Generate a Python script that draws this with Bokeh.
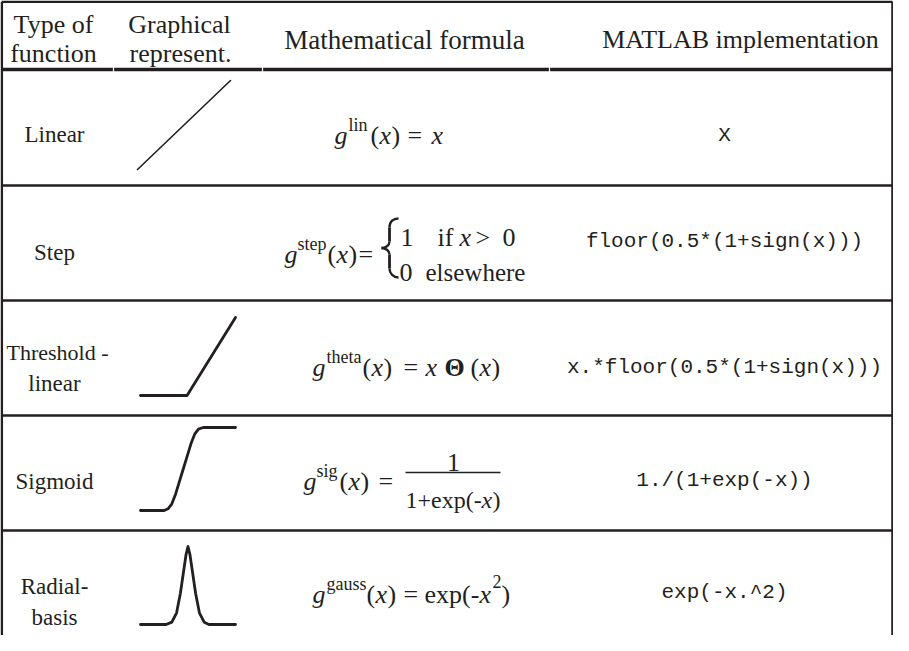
from bokeh.plotting import figure
from bokeh.models import Range1d, ColumnDataSource
from bokeh.embed import file_html
from bokeh.resources import INLINE
from bokeh.core.properties import value

# ---------------- data ----------------
header_lines = [["Type of", "function"], ["Graphical", "represent."],
                ["Mathematical formula"], ["MATLAB implementation"]]
function_type_lines = [["Linear"], ["Step"], ["Threshold -", "linear"],
                       ["Sigmoid"], ["Radial-", "basis"]]
superscripts = ["lin", "step", "theta", "sig", "gauss"]
matlab_code = ["X", "floor(0.5*(1+sign(x)))", "x.*floor(0.5*(1+sign(x)))",
               "1./(1+exp(-x))", "exp(-x.^2)"]

# sketch curves (u: 0..1 across the cell sketch, v: 0 bottom .. 1 top)
linear_u = [0.0, 1.0]
linear_v = [0.0, 1.0]
threshold_u = [0.0, 0.49, 1.0]
threshold_v = [0.0, 0.0, 1.0]
sigmoid_u = [0.0, 0.25, 0.29, 0.33, 0.37, 0.41, 0.45, 0.49, 0.53, 0.57, 0.61, 0.66, 1.0]
sigmoid_v = [0.0, 0.0, 0.02, 0.08, 0.2, 0.35, 0.5, 0.65, 0.8, 0.92, 0.98, 1.0, 1.0]
gauss_u = [0.0, 0.27, 0.33, 0.38, 0.42, 0.45, 0.48, 0.5, 0.52, 0.55, 0.58, 0.62, 0.67, 0.72, 1.0]
gauss_v = [0.0, 0.0, 0.03, 0.15, 0.4, 0.65, 0.9, 1.0, 0.9, 0.65, 0.4, 0.15, 0.03, 0.0, 0.0]

# ---------------- layout (page pixel coordinates) ----------------
INK = "#231f20"
SERIF = "Liberation Serif"
MONO = "Liberation Mono"
header_y = 77
row_lines = [193, 308, 423, 538]
col_gaps = [121, 270, 557]
left, right, top, bottom = 9.3, 900, 9.3, 643

p = figure(width=893, height=635, x_range=Range1d(8, 901), y_range=Range1d(643, 8),
           output_backend="svg", toolbar_location=None, min_border=0,
           x_axis_type=None, y_axis_type=None,
           background_fill_color="white", border_fill_color="white",
           outline_line_color=None)
p.grid.visible = False

# frame
p.segment(x0=[left, left, right], y0=[top, top, top], x1=[right, left, right], y1=[top, bottom, bottom],
          line_color=INK, line_width=2.5)
# header line with tiny column gaps
hx0 = [left] + [g + 0.6 for g in col_gaps]
hx1 = [g - 0.6 for g in col_gaps] + [right]
p.segment(x0=hx0, y0=[header_y] * 4, x1=hx1, y1=[header_y] * 4, line_color=INK, line_width=3.5)
# row lines
p.segment(x0=[left] * 4, y0=row_lines, x1=[right] * 4, y1=row_lines, line_color=INK, line_width=2.5)

# sketches
def sketch(u, v, ybot, ytop, lw, x0=148, x1=243):
    xs = [x0 + a * (x1 - x0) for a in u]
    ys = [ybot + b * (ytop - ybot) for b in v]
    p.line(xs, ys, line_color=INK, line_width=lw, line_join="round", line_cap="round")

sketch(linear_u, linear_v, 177, 88, 1.6, 145, 238)
sketch(threshold_u, threshold_v, 403, 325, 2.8)
sketch(sigmoid_u, sigmoid_v, 518, 435, 2.8)
sketch(gauss_u, gauss_v, 632, 554, 2.8)

# ---------------- texts ----------------
groups = {}
def put(txt, x, y, size=26, style="normal", font=SERIF, align="left", baseline="alphabetic"):
    d = groups.setdefault((font, style, align, baseline), dict(x=[], y=[], text=[], size=[]))
    d["x"].append(x); d["y"].append(y); d["text"].append(txt); d["size"].append(f"{size}px")

# header
put(header_lines[0][0], 61, 32, align="center")
put(header_lines[0][1], 61, 61, align="center")
put(header_lines[1][0], 187, 32, align="center")
put(header_lines[1][1], 188, 61, align="center")
put(header_lines[2][0], 412, 47, size=27, align="center")
put(header_lines[3][0], 748, 47, align="center")

# function type labels
label_base = [[142], [260], [360, 391], [489], [594, 625]]
label_size = [[23], [23], [22, 23], [23], [23, 23]]
label_x = [[62], [62], [65, 62], [62], [62, 62]]
for lines, ys, ss, xs in zip(function_type_lines, label_base, label_size, label_x):
    for t, y, s, x in zip(lines, ys, ss, xs):
        put(t, x, y, size=s, align="center")

# MATLAB code
code_y = [143, 249, 375, 488, 600]
for c, y in zip(matlab_code, code_y):
    put(c, 732, y, size=21, font=MONO, align="center")

SUP = 18
RAISE = 11
# Linear: g^lin(x) = x
b = 143
put("g", 342, b, style="italic"); put(superscripts[0], 356, b - RAISE, size=SUP)
put("(", 378, b); put("x", 387, b, style="italic"); put(")", 399, b)
put("=", 415, b); put("x", 439, b, style="italic")

# Step
b = 262
put("g", 292, b, style="italic"); put(superscripts[1], 305, b - RAISE, size=SUP)
put("(", 335, b); put("x", 344, b, style="italic"); put(")", 356, b)
put("=", 366, b)
# curly brace
bx = dict(x0=[406, 397, 389, 397], y0=[226, 249, 255.5, 276],
          x1=[397, 389, 397, 406], y1=[235, 255.5, 262, 285],
          cx0=[401, 397, 393, 397], cy0=[226, 253, 255.5, 281],
          cx1=[397, 393, 397, 401], cy1=[229, 255.5, 258, 285])
p.bezier(source=ColumnDataSource(bx), x0="x0", y0="y0", x1="x1", y1="y1",
         cx0="cx0", cy0="cy0", cx1="cx1", cy1="cy1", line_color=INK, line_width=2.4)
p.segment(x0=[397, 397], y0=[235, 262], x1=[397, 397], y1=[249, 276], line_color=INK, line_width=2.8)
put("1", 408, 245); put("if", 445, 245); put("x", 467, 245, style="italic")
put(">", 483, 245); put("0", 510, 245)
put("0", 407, 280); put("elsewhere", 433, 280, size=25)

# Threshold-linear
b = 375
put("g", 320, b, style="italic"); put(superscripts[2], 334, b - RAISE, size=SUP)
put("(", 370, b); put("x", 379, b, style="italic"); put(")", 391, b)
put("=", 411, b); put("x", 433, b, style="italic")
put("\u0398", 452, b, style="bold")
put("(", 478, b); put("x", 487, b, style="italic"); put(")", 499, b)

# Sigmoid
b = 489
put("g", 311, b, style="italic"); put(superscripts[3], 324, b - RAISE, size=SUP)
put("(", 347, b); put("x", 356, b, style="italic"); put(")", 368, b)
put("=", 386, b)
p.segment(x0=[413], y0=[480], x1=[508], y1=[480], line_color=INK, line_width=1.5)
put("1", 461, 470, align="center")
put("1+exp(-", 413, 507, size=24); put("x", 489, 507, size=24, style="italic"); put(")", 500, 507, size=24)

# Radial basis
b = 602
put("g", 320, b, style="italic"); put(superscripts[4], 334, b - RAISE, size=SUP)
put("(", 374, b); put("x", 383, b, style="italic"); put(")", 395, b)
put("=", 411, b)
put("exp(-", 432, b); put("x", 487, b, style="italic"); put("2", 500, b - 13, size=SUP)
put(")", 509, b)

for (font, style, align, baseline), d in groups.items():
    p.text(x="x", y="y", text="text", source=ColumnDataSource(d),
           text_font=value(font), text_font_style=style, text_align=align,
           text_baseline=baseline, text_font_size="size", text_color=INK)

open("out.html", "w").write(file_html(p, INLINE))
